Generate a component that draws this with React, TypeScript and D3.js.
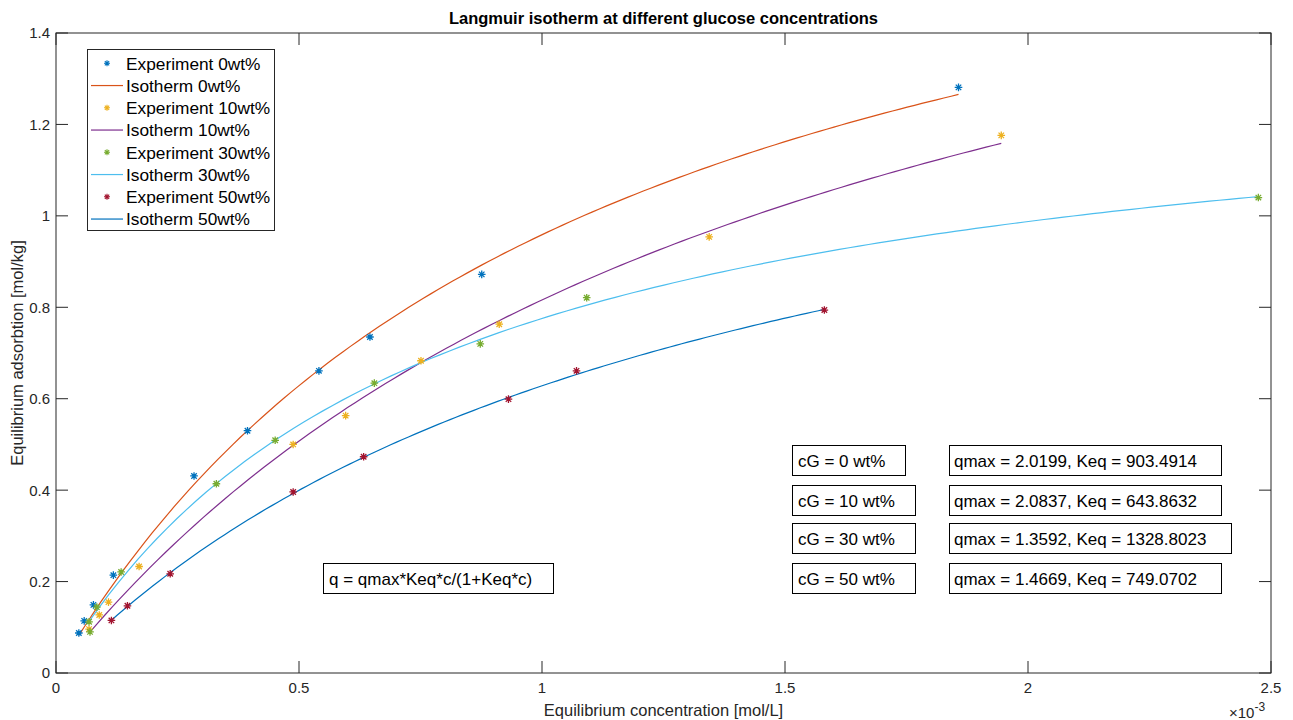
import React from "react";
import * as d3 from "d3";

// ---- data (concentrations in 1e-3 mol/L, adsorption in mol/kg) ----
const exp0C = [0.047, 0.058, 0.077, 0.118, 0.284, 0.394, 0.541, 0.646, 0.876, 1.857];
const exp0Q = [0.0875, 0.114, 0.149, 0.214, 0.431, 0.53, 0.661, 0.735, 0.872, 1.281];
const exp10C = [0.068, 0.089, 0.108, 0.171, 0.488, 0.596, 0.751, 0.912, 1.344, 1.945];
const exp10Q = [0.096, 0.127, 0.155, 0.233, 0.5, 0.563, 0.683, 0.763, 0.954, 1.176];
const exp30C = [0.07, 0.068, 0.084, 0.134, 0.33, 0.451, 0.655, 0.873, 1.092, 2.474];
const exp30Q = [0.09, 0.112, 0.144, 0.221, 0.414, 0.509, 0.634, 0.72, 0.821, 1.04];
const exp50C = [0.114, 0.147, 0.235, 0.488, 0.633, 0.931, 1.071, 1.581];
const exp50Q = [0.115, 0.147, 0.217, 0.396, 0.473, 0.599, 0.661, 0.794];

const concLabels = ["0", "10", "30", "50"];
const qmaxVals = [2.0199, 2.0837, 1.3592, 1.4669];
const keqVals = [903.4914, 643.8632, 1328.8023, 749.0702];
const keqText = ["903.4914", "643.8632", "1328.8023", "749.0702"];
const isoStart = [0.047, 0.068, 0.068, 0.114];
const isoEnd = [1.857, 1.945, 2.474, 1.581];

const xTicks = [0, 0.5, 1, 1.5, 2, 2.5];
const xTickLabels = ["0", "0.5", "1", "1.5", "2", "2.5"];
const yTicks = [0, 0.2, 0.4, 0.6, 0.8, 1, 1.2, 1.4];
const yTickLabels = ["0", "0.2", "0.4", "0.6", "0.8", "1", "1.2", "1.4"];

const expColors = ["#0072BD", "#EDB120", "#77AC30", "#A2142F"];
const isoColors = ["#D95319", "#7E2F8E", "#4DBEEE", "#0072BD"];

const FONT = "'Liberation Sans', Arial, Helvetica, sans-serif";

const W = 1293, H = 720;
const L = 56, R = 1271, T = 33, B = 673;

function Star({ x, y, color, r = 3.8, sw = 1.3 }: { x: number; y: number; color: string; r?: number; sw?: number }) {
  const d = r * 0.72;
  return (
    <path
      d={`M${x - r},${y}L${x + r},${y}M${x},${y - r}L${x},${y + r}M${x - d},${y - d}L${x + d},${y + d}M${x - d},${y + d}L${x + d},${y - d}`}
      stroke={color}
      strokeWidth={sw}
      fill="none"
    />
  );
}

export default function App() {
  const x = d3.scaleLinear().domain([0, 2.5]).range([L, R]);
  const y = d3.scaleLinear().domain([0, 1.4]).range([B, T]);
  const line = d3
    .line<[number, number]>()
    .x((d) => x(d[0]))
    .y((d) => y(d[1]));

  const expSets = [
    [exp0C, exp0Q],
    [exp10C, exp10Q],
    [exp30C, exp30Q],
    [exp50C, exp50Q],
  ];

  const isoPaths = qmaxVals.map((qm, i) => {
    const k = keqVals[i];
    const pts: [number, number][] = d3.range(0, 121).map((j) => {
      const c = isoStart[i] + ((isoEnd[i] - isoStart[i]) * j) / 120;
      const cm = c * 1e-3;
      return [c, (qm * k * cm) / (1 + k * cm)];
    });
    return line(pts) as string;
  });

  const tick = 12;
  const legendRows: { type: "exp" | "iso"; idx: number; label: string }[] = [];
  concLabels.forEach((c, i) => {
    legendRows.push({ type: "exp", idx: i, label: `Experiment ${c}wt%` });
    legendRows.push({ type: "iso", idx: i, label: `Isotherm ${c}wt%` });
  });

  const boxRows = [
    { y0: 445, y1: 475, w1: 113, w2: 272 },
    { y0: 485, y1: 515, w1: 123, w2: 272 },
    { y0: 523, y1: 553, w1: 123, w2: 282 },
    { y0: 563, y1: 593, w1: 123, w2: 272 },
  ];

  return (
    <svg
      width={W}
      height={H}
      style={{ position: "absolute", left: 0, top: 0, background: "#fff" }}
      fontFamily={FONT}
    >
      <rect x={0} y={0} width={W} height={H} fill="#fff" />
      {/* title */}
      <text x={(L + R) / 2} y={24} textAnchor="middle" fontWeight="bold" fontSize={16.5} fill="#000">
        Langmuir isotherm at different glucose concentrations
      </text>

      {/* isotherm lines */}
      {isoPaths.map((p, i) => (
        <path key={"iso" + i} d={p} stroke={isoColors[i]} strokeWidth={1.2} fill="none" />
      ))}

      {/* experiment points */}
      {expSets.map(([cs, qs], i) =>
        cs.map((c, j) => <Star key={`e${i}-${j}`} x={x(c)} y={y(qs[j])} color={expColors[i]} />)
      )}

      {/* axes box */}
      <rect x={L} y={T} width={R - L} height={B - T} fill="none" stroke="#262626" strokeWidth={1} />
      {xTicks.map((t, i) => (
        <g key={"xt" + i}>
          <line x1={x(t)} x2={x(t)} y1={B} y2={B - tick} stroke="#262626" />
          <line x1={x(t)} x2={x(t)} y1={T} y2={T + tick} stroke="#262626" />
          <text x={x(t)} y={693} textAnchor="middle" fontSize={15} fill="#262626">
            {xTickLabels[i]}
          </text>
        </g>
      ))}
      {yTicks.map((t, i) => (
        <g key={"yt" + i}>
          <line x1={L} x2={L + tick} y1={y(t)} y2={y(t)} stroke="#262626" />
          <line x1={R} x2={R - tick} y1={y(t)} y2={y(t)} stroke="#262626" />
          <text x={50} y={y(t)} dy="0.36em" textAnchor="end" fontSize={15} fill="#262626">
            {yTickLabels[i]}
          </text>
        </g>
      ))}
      <text x={1229} y={718} fontSize={15} fill="#262626">
        ×10
        <tspan dy={-7} fontSize={12}>-3</tspan>
      </text>

      {/* axis labels */}
      <text x={(L + R) / 2} y={716} textAnchor="middle" fontSize={16.5} fill="#262626">
        Equilibrium concentration [mol/L]
      </text>
      <text
        transform={`translate(23, ${(T + B) / 2}) rotate(-90)`}
        textAnchor="middle"
        fontSize={16.5}
        fill="#262626"
      >
        Equilibrium adsorbtion [mol/kg]
      </text>

      {/* legend */}
      <rect x={87.5} y={49.5} width={187} height={181} fill="#fff" stroke="#262626" strokeWidth={1} />
      {legendRows.map((r, i) => {
        const cy = 63.3 + i * 22.25;
        return (
          <g key={"lg" + i}>
            {r.type === "exp" ? (
              <Star x={107} y={cy} color={expColors[r.idx]} r={3} sw={1.1} />
            ) : (
              <line x1={91} x2={123} y1={cy} y2={cy} stroke={isoColors[r.idx]} strokeWidth={1.2} />
            )}
            <text x={126} y={cy} dy="0.36em" fontSize={17.3} fill="#000">
              {r.label}
            </text>
          </g>
        );
      })}

      {/* formula box */}
      <rect x={323.5} y={563.5} width={230} height={30} fill="#fff" stroke="#000" />
      <text x={329} y={578.5} dy="0.36em" fontSize={17} fill="#000">
        q = qmax*Keq*c/(1+Keq*c)
      </text>

      {/* parameter boxes */}
      {boxRows.map((b, i) => (
        <g key={"bx" + i}>
          <rect x={792.5} y={b.y0 + 0.5} width={b.w1} height={b.y1 - b.y0} fill="#fff" stroke="#000" />
          <text x={798} y={(b.y0 + b.y1) / 2 + 0.5} dy="0.36em" fontSize={17} fill="#000">
            {`cG = ${concLabels[i]} wt%`}
          </text>
          <rect x={949.5} y={b.y0 + 0.5} width={b.w2} height={b.y1 - b.y0} fill="#fff" stroke="#000" />
          <text x={954} y={(b.y0 + b.y1) / 2 + 0.5} dy="0.36em" fontSize={17} fill="#000">
            {`qmax = ${qmaxVals[i].toFixed(4)}, Keq = ${keqText[i]}`}
          </text>
        </g>
      ))}
    </svg>
  );
}
